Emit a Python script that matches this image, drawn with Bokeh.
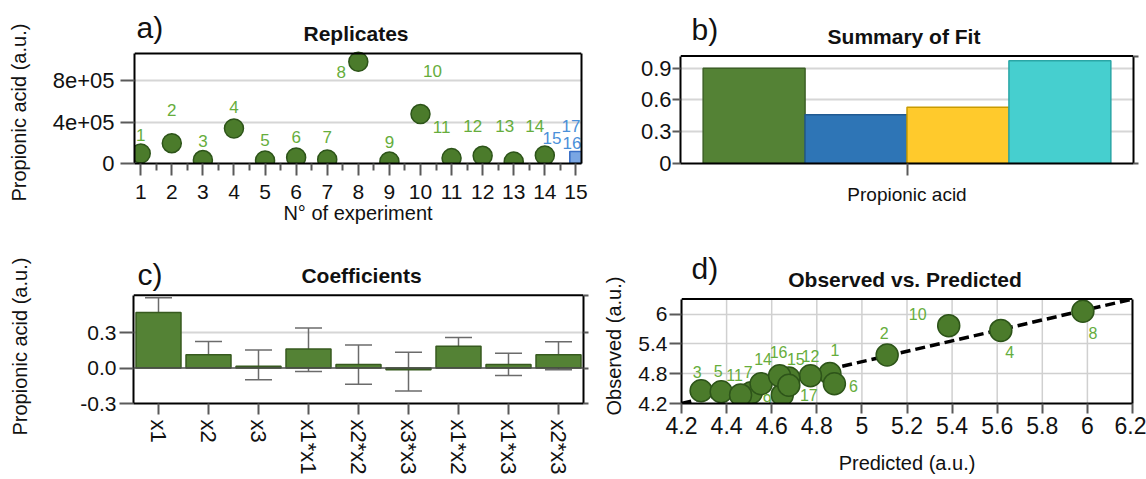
from bokeh.plotting import figure
from bokeh.layouts import column, row
from bokeh.models import (ColumnDataSource, Range1d, FactorRange, FixedTicker,
                          LinearAxis, Span, Whisker, TeeHead, Title)
from bokeh.transform import dodge
from bokeh.core.properties import value
from bokeh.embed import file_html
from bokeh.resources import INLINE

FONT = "Liberation Sans"

# ---------------- data: a) Replicates ----------------
exp_numbers = ["1", "2", "3", "4", "5", "6", "7", "8", "9", "10", "11", "12", "13", "14", "15", "16", "17"]
exp_positions = [1, 2, 3, 4, 5, 6, 7, 8, 9, 10, 11, 12, 13, 14, 15, 15, 15]
replicate_values = [97e3, 197e3, 33e3, 339e3, 30e3, 58e3, 39e3, 984e3, 19e3, 478e3,
                    52e3, 74e3, 19e3, 78e3, 55e3, 50e3, 58e3]
is_center_point = [False] * 14 + [True] * 3
a_x_ticks = [1, 2, 3, 4, 5, 6, 7, 8, 9, 10, 11, 12, 13, 14, 15]
a_x_tick_labels = ["1", "2", "3", "4", "5", "6", "7", "8", "9", "10", "11", "12", "13", "14", "15"]
a_y_ticks = [0, 400000, 800000]
a_y_tick_labels = ["0", "4e+05", "8e+05"]
a_label_dx = [0, 0, 0, 0, 0, 0, 0, -17, 0, 12, -10, -10, -9, -10, -24, -4, -5]
a_label_dy = [-18, -33, -19, -21, -20, -21, -22, 10, -20, -43, -31, -30, -36, -29, -20, -15, -32]

# ---------------- data: b) Summary of Fit ----------------
response_names = ["Propionic acid"]
fit_metrics = ["R2", "Q2", "Model validity", "Reproducibility"]
fit_values = [0.90, 0.46, 0.53, 0.97]
b_y_ticks = [0, 0.3, 0.6, 0.9]
b_y_tick_labels = ["0", "0.3", "0.6", "0.9"]

# ---------------- data: c) Coefficients ----------------
coef_terms = ["x1", "x2", "x3", "x1*x1", "x2*x2", "x3*x3", "x1*x2", "x1*x3", "x2*x3"]
coef_values = [0.468, 0.111, 0.015, 0.161, 0.029, -0.015, 0.183, 0.029, 0.111]
coef_low = [0.323, 0.007, -0.099, -0.029, -0.138, -0.195, 0.063, -0.063, -0.015]
coef_high = [0.594, 0.225, 0.153, 0.337, 0.195, 0.133, 0.258, 0.124, 0.222]
c_y_ticks = [-0.3, 0.0, 0.3]
c_y_tick_labels = ["-0.3", "0.0", "0.3"]

# ---------------- data: d) Observed vs. Predicted ----------------
obs_labels = ["1", "2", "3", "4", "5", "6", "7", "8", "9", "10", "11", "12", "14", "15", "16", "17"]
predicted = [4.858, 5.112, 4.287, 5.616, 4.376, 4.878, 4.509, 5.980, 4.647, 5.385,
             4.462, 4.772, 4.553, 4.676, 4.635, 4.676]
observed = [4.803, 5.175, 4.456, 5.670, 4.437, 4.597, 4.418, 6.055, 4.373, 5.766,
            4.373, 4.759, 4.597, 4.713, 4.759, 4.566]
fit_line_x = [4.2, 6.2]
fit_line_y = [4.2, 6.3]
d_x_ticks = [4.2, 4.4, 4.6, 4.8, 5.0, 5.2, 5.4, 5.6, 5.8, 6.0, 6.2]
d_x_tick_labels = ["4.2", "4.4", "4.6", "4.8", "5", "5.2", "5.4", "5.6", "5.8", "6", "6.2"]
d_y_ticks = [4.2, 4.8, 5.4, 6.0]
d_y_tick_labels = ["4.2", "4.8", "5.4", "6"]
d_label_dx = [5, -3, -4, 9, -3, 19, -3, 10, -15, -31, -6, 0, 2, 7, -1, 20]
d_label_dy = [-24, -22, -19, 22, -21, 2, -21, 22, 5, -12, -20, -20, -25, -19, -24, 10]

# ---------------- styles ----------------
PT_FILL = "#4b7b2b"
PT_LINE = "#2d5419"
LBL_GREEN = "#66ad3c"
LBL_BLUE = "#4a90d9"
GRID = "#d6d6d6"
TICK = "#5a5a5a"
TXT = "#111111"
AXIS_LABEL_SIZE = "20px"


def style_axis(ax, size, tick_out, standoff, label_standoff=0):
    ax.major_label_text_font = FONT
    ax.major_label_text_font_size = size
    ax.major_label_text_color = TXT
    ax.major_tick_out = tick_out
    ax.major_tick_in = 0
    ax.minor_tick_in = 0
    ax.minor_tick_out = 0
    ax.major_label_standoff = standoff
    ax.major_tick_line_color = TICK
    ax.major_tick_line_width = 2
    ax.minor_tick_line_color = TICK
    ax.minor_tick_line_width = 2
    ax.axis_line_color = "black"
    ax.axis_line_width = 2
    ax.axis_label_text_font = FONT
    ax.axis_label_text_font_style = "normal"
    ax.axis_label_text_font_size = AXIS_LABEL_SIZE
    ax.axis_label_text_color = TXT
    ax.axis_label_standoff = label_standoff


def make_panel(ox, oy, w, h, box, frame_top, x_range, y_start, y_top):
    """box = (left, right, top, bottom) of the drawn plot box in page pixels.
    The frame is extended upward (to frame_top) so headings can be drawn inside it."""
    left, right, top, bottom = box
    y_end = y_start + (y_top - y_start) * (bottom - frame_top) / (bottom - top)
    p = figure(width=w, height=h, x_range=x_range, y_range=Range1d(y_start, y_end),
               output_backend="svg", toolbar_location=None,
               min_border_left=left - ox, min_border_right=ox + w - right,
               min_border_top=frame_top - oy, min_border_bottom=oy + h - bottom)
    p.outline_line_color = None
    p.background_fill_color = "white"
    p.border_fill_color = "white"
    p.yaxis.bounds = (y_start, y_top)
    p.add_layout(Span(location=y_top, dimension="width", line_color="black", line_width=2))
    return p


def right_edge(p, y_start, y_top, ticks, tick_out):
    ax = LinearAxis(ticker=FixedTicker(ticks=ticks), bounds=(y_start, y_top))
    style_axis(ax, "0px", tick_out, 0)
    ax.major_label_text_alpha = 0
    p.add_layout(ax, "right")


def heading(p, x0, xc, y_top, letter, ldx, ldy, title, tdx, tdy):
    p.text(x=[x0], y=[y_top], text=[letter], x_offset=ldx, y_offset=ldy, text_align="left",
           text_baseline="middle", text_font=value(FONT), text_font_size="30px", text_color=TXT)
    p.text(x=[xc], y=[y_top], text=[title], x_offset=tdx, y_offset=tdy, text_align="center",
           text_baseline="middle", text_font=value(FONT), text_font_size="21px",
           text_font_style="bold", text_color=TXT)


def y_title(p, y_start, text, offset, gap):
    # blank spacer panel (a single white tick) between the tick labels and the axis title
    sp = LinearAxis(ticker=FixedTicker(ticks=[y_start]), major_tick_out=gap, major_tick_in=0,
                    minor_tick_out=0, minor_tick_in=0, major_label_standoff=0,
                    major_label_overrides={y_start: ""}, major_label_text_font_size="1px",
                    axis_line_color=None, major_tick_line_color="white", major_tick_line_width=1)
    p.add_layout(sp, "left")
    p.add_layout(Title(text=text, align="left", offset=offset, standoff=4,
                       text_font=FONT, text_font_size=AXIS_LABEL_SIZE, text_font_style="normal",
                       text_color=TXT), "left")


# ================= a) =================
A_Y0, A_YT = 0, 1.064e6
pa = make_panel(0, 0, 591, 244, (134, 581, 53, 163), 10, Range1d(0.8, 15.18), A_Y0, A_YT)
pa.xgrid.visible = False
pa.ygrid.ticker = FixedTicker(ticks=a_y_ticks[1:])
pa.ygrid.grid_line_color = GRID
pa.ygrid.grid_line_width = 2
minor_a = [t + 0.5 for t in a_x_ticks[:-1]]
pa.xaxis.ticker = FixedTicker(ticks=a_x_ticks, minor_ticks=minor_a)
pa.xaxis.major_label_overrides = dict(zip(a_x_ticks, a_x_tick_labels))
pa.yaxis.ticker = FixedTicker(ticks=a_y_ticks)
pa.yaxis.major_label_overrides = dict(zip(a_y_ticks, a_y_tick_labels))
style_axis(pa.xaxis[0], "21px", 12, 9, 0)
pa.xaxis.minor_tick_out = 7
pa.xaxis.axis_label = "N\u00b0 of experiment"
style_axis(pa.yaxis[0], "22px", 14, 6)
right_edge(pa, A_Y0, A_YT, [], 0)
y_title(pa, A_Y0, "Propionic acid (a.u.)", -38, 18)

circ = [i for i, c in enumerate(is_center_point) if not c]
cent = [i for i, c in enumerate(is_center_point) if c]


def subset(idx):
    return ColumnDataSource(dict(x=[exp_positions[i] for i in idx], y=[replicate_values[i] for i in idx],
                                 t=[exp_numbers[i] for i in idx], dx=[a_label_dx[i] for i in idx],
                                 dy=[a_label_dy[i] for i in idx]))


src_circ, src_cent = subset(circ), subset(cent)
pa.scatter("x", "y", source=src_circ, marker="circle", size=19, fill_color=PT_FILL,
           line_color=PT_LINE, line_width=1.5)
pa.scatter("x", "y", source=src_cent, marker="square", size=12, fill_color="#7aa6e3",
           line_color="#3b70c6", line_width=1.5)
pa.text("x", "y", text="t", source=src_circ, x_offset="dx", y_offset="dy", text_align="center",
        text_baseline="middle", text_font=value(FONT), text_font_size="17px", text_color=LBL_GREEN)
pa.text("x", "y", text="t", source=src_cent, x_offset="dx", y_offset="dy", text_align="center",
        text_baseline="middle", text_font=value(FONT), text_font_size="17px", text_color=LBL_BLUE)
heading(pa, 0.8, (0.8 + 15.18) / 2, A_YT, "a)", 2, -26, "Replicates", -2, -20)

# ================= b) =================
B_Y0, B_YT = 0, 1.015
pb = make_panel(591, 0, 555, 244, (680, 1133, 57, 168), 10, FactorRange(factors=response_names), B_Y0, B_YT)
pb.xgrid.visible = False
pb.ygrid.ticker = FixedTicker(ticks=b_y_ticks[1:])
pb.ygrid.grid_line_color = GRID
pb.ygrid.grid_line_width = 2
pb.yaxis.ticker = FixedTicker(ticks=b_y_ticks)
pb.yaxis.major_label_overrides = dict(zip(b_y_ticks, b_y_tick_labels))
style_axis(pb.yaxis[0], "22px", 8, 1)
style_axis(pb.xaxis[0], "19px", 12, 8)
right_edge(pb, B_Y0, B_YT, [B_Y0, B_YT], 5)

bar_fills = ["#548235", "#2e75b6", "#ffca2c", "#46cfcf"]
bar_lines = ["#3d6026", "#215a91", "#c99b00", "#2aa6a6"]
bw = 0.225
for i, (m, v) in enumerate(zip(fit_metrics, fit_values)):
    s = ColumnDataSource(dict(cat=response_names, val=[v], metric=[m]))
    pb.vbar(x=dodge("cat", (i - 1.5) * bw, range=pb.x_range), top="val", width=bw, source=s,
            fill_color=bar_fills[i], line_color=bar_lines[i], line_width=1.5)
heading(pb, 0, 0.5, B_YT, "b)", 11, -27, "Summary of Fit", -3, -20)

# ================= c) =================
C_Y0, C_YT = -0.3, 0.615
pc = make_panel(0, 244, 591, 235, (133, 583, 295, 404), 254, FactorRange(factors=coef_terms), C_Y0, C_YT)
pc.xgrid.visible = False
pc.ygrid.ticker = FixedTicker(ticks=[0.3])
pc.ygrid.grid_line_color = GRID
pc.ygrid.grid_line_width = 2
pc.yaxis.ticker = FixedTicker(ticks=c_y_ticks)
pc.yaxis.major_label_overrides = dict(zip(c_y_ticks, c_y_tick_labels))
style_axis(pc.yaxis[0], "21px", 14, 3)
style_axis(pc.xaxis[0], "22px", 11, 5)
pc.xaxis.major_label_orientation = "vertical"
right_edge(pc, C_Y0, C_YT, [-0.3, 0.0, 0.3, C_YT], 5)
y_title(pc, C_Y0, "Propionic acid (a.u.)", -32, 45)

src_c = ColumnDataSource(dict(term=coef_terms, coef=coef_values, low=coef_low, high=coef_high))
pc.vbar(x="term", top="coef", bottom=0, width=0.9, source=src_c, fill_color="#548235",
        line_color="#375a1f", line_width=1.5)
pc.add_layout(Span(location=0, dimension="width", line_color="#4d4d4d", line_width=1.5))
pc.add_layout(Whisker(source=src_c, base="term", upper="high", lower="low", line_color="#6b6b6b",
                      line_width=1.5,
                      upper_head=TeeHead(size=27, line_color="#6b6b6b", line_width=1.5),
                      lower_head=TeeHead(size=27, line_color="#6b6b6b", line_width=1.5)))
heading(pc, 0, 4.5, C_YT, "c)", 4, -21, "Coefficients", 3, -20)

# ================= d) =================
D_Y0, D_YT = 4.2, 6.3
pdd = make_panel(591, 244, 555, 235, (681, 1132, 293, 403), 246, Range1d(4.2, 6.2), D_Y0, D_YT)
pdd.xgrid.visible = False
pdd.ygrid.ticker = FixedTicker(ticks=d_y_ticks[1:])
pdd.ygrid.grid_line_color = "#d0d0d0"
pdd.ygrid.grid_line_width = 1.5
pdd.segment(x0=d_x_ticks, y0=[D_Y0] * len(d_x_ticks), x1=d_x_ticks, y1=[D_YT] * len(d_x_ticks),
            line_color="#d0d0d0", line_width=1.5)
pdd.xaxis.ticker = FixedTicker(ticks=d_x_ticks)
pdd.xaxis.major_label_overrides = dict(zip(d_x_ticks, d_x_tick_labels))
pdd.yaxis.ticker = FixedTicker(ticks=d_y_ticks)
pdd.yaxis.major_label_overrides = dict(zip(d_y_ticks, d_y_tick_labels))
style_axis(pdd.xaxis[0], "23px", 10, 3, 15)
pdd.xaxis.axis_label = "Predicted (a.u.)"
style_axis(pdd.yaxis[0], "21px", 12, 2)
right_edge(pdd, D_Y0, D_YT, [], 0)
y_title(pdd, D_Y0, "Observed (a.u.)", -12, 9)

pdd.line(fit_line_x, fit_line_y, line_color="black", line_width=3.5, line_dash="10 5")
src_d = ColumnDataSource(dict(x=predicted, y=observed, t=obs_labels, dx=d_label_dx, dy=d_label_dy))
pdd.scatter("x", "y", source=src_d, marker="circle", size=22, fill_color=PT_FILL,
            line_color=PT_LINE, line_width=1.5)
pdd.text("x", "y", text="t", source=src_d, x_offset="dx", y_offset="dy", text_align="center",
         text_baseline="middle", text_font=value(FONT), text_font_size="16px", text_color=LBL_GREEN)
heading(pdd, 4.2, 5.2, D_YT, "d)", 10, -31, "Observed vs. Predicted", -2, -20)

layout = column(row(pa, pb), row(pc, pdd))
open("out.html", "w").write(file_html(layout, INLINE))
